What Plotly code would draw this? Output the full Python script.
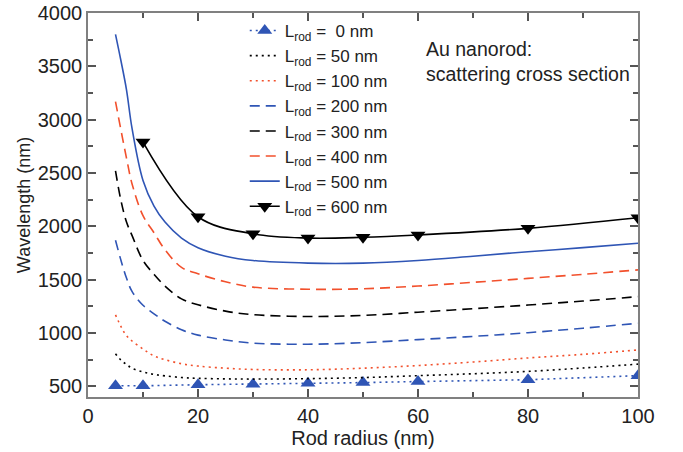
import plotly.graph_objects as go

# Rod radius grid (nm) for the smooth curves
radius = [5, 6, 7, 8, 10, 12, 14, 17, 20, 25, 30, 40, 50, 60, 70, 80, 90, 100]

wl_50 = [805, 745, 705, 670, 635, 612, 598, 583, 575, 570, 568, 572, 582, 600, 618, 640, 672, 708]
wl_100 = [1170, 1060, 975, 925, 850, 785, 750, 712, 690, 670, 658, 655, 670, 695, 728, 766, 800, 841]
wl_200 = [1870, 1680, 1515, 1390, 1260, 1180, 1110, 1030, 980, 935, 905, 895, 910, 938, 968, 1003, 1045, 1091]
wl_300 = [2520, 2240, 2040, 1915, 1680, 1550, 1440, 1320, 1265, 1205, 1172, 1155, 1165, 1195, 1228, 1262, 1300, 1341]
wl_400 = [3170, 2900, 2640, 2400, 2100, 1940, 1780, 1615, 1555, 1480, 1430, 1410, 1415, 1440, 1475, 1512, 1550, 1592]
wl_500 = [3800, 3550, 3280, 2920, 2430, 2190, 2040, 1890, 1800, 1720, 1680, 1655, 1655, 1680, 1720, 1762, 1800, 1842]

# Marker series
radius_0 = [5, 10, 20, 30, 40, 50, 60, 80, 100]
wl_0 = [505, 505, 515, 520, 528, 535, 545, 562, 600]

radius_600 = [10, 20, 30, 40, 50, 60, 80, 100]
wl_600 = [2790, 2090, 1930, 1890, 1897, 1919, 1981, 2080]

BLUE = "#2f55b5"
RED = "#f2502c"
BLACK = "#000000"

def lab(n):
    return "L<sub>rod</sub> = " + n + " nm"

fig = go.Figure()
fig.add_trace(go.Scatter(x=radius_0, y=wl_0, mode="lines+markers", name="L<sub>rod</sub> =  0 nm",
                         line=dict(color=BLUE, width=1.6, dash="2px,4px"),
                         marker=dict(symbol="triangle-up", size=13, color=BLUE)))
fig.add_trace(go.Scatter(x=radius, y=wl_50, mode="lines", name=lab("50"), line_shape="spline",
                         line=dict(color=BLACK, width=1.6, dash="2px,4px")))
fig.add_trace(go.Scatter(x=radius, y=wl_100, mode="lines", name=lab("100"), line_shape="spline",
                         line=dict(color=RED, width=1.6, dash="2px,4px")))
fig.add_trace(go.Scatter(x=radius, y=wl_200, mode="lines", name=lab("200"), line_shape="spline",
                         line=dict(color=BLUE, width=1.6, dash="10px,6px")))
fig.add_trace(go.Scatter(x=radius, y=wl_300, mode="lines", name=lab("300"), line_shape="spline",
                         line=dict(color=BLACK, width=1.6, dash="10px,6px")))
fig.add_trace(go.Scatter(x=radius, y=wl_400, mode="lines", name=lab("400"), line_shape="spline",
                         line=dict(color=RED, width=1.6, dash="10px,6px")))
fig.add_trace(go.Scatter(x=radius, y=wl_500, mode="lines", name=lab("500"), line_shape="spline",
                         line=dict(color=BLUE, width=1.6)))
fig.add_trace(go.Scatter(x=radius_600, y=wl_600, mode="lines+markers", name=lab("600"), line_shape="spline",
                         line=dict(color=BLACK, width=1.6),
                         marker=dict(symbol="triangle-down", size=13, color=BLACK)))

fig.add_annotation(x=0.61, y=0.875, xref="paper", yref="paper", xanchor="left", yanchor="middle",
                   align="left", showarrow=False,
                   text="Au nanorod:<br>scattering cross section",
                   font=dict(size=19.5, color="#222"))

axis_common = dict(showline=True, linecolor="#808080", linewidth=1.5, mirror="ticks",
                   ticks="inside", ticklen=8, tickwidth=1.5, tickcolor="#555",
                   showgrid=False, zeroline=False, automargin=False,
                   tickfont=dict(size=20, color="#222"))

fig.update_xaxes(range=[0, 100], dtick=20, tick0=0,
                 minor=dict(dtick=10, ticks="inside", ticklen=5, tickcolor="#555", tickwidth=1.5),
                 title=dict(text="Rod radius (nm)", font=dict(size=20, color="#222"), standoff=0),
                 **axis_common)
fig.update_yaxes(range=[400, 4000], dtick=500, tick0=0,
                 minor=dict(dtick=250, ticks="inside", ticklen=5, tickcolor="#555", tickwidth=1.5),
                 title=dict(text="Wavelength (nm)", font=dict(size=18, color="#222"), standoff=2),
                 **axis_common)

fig.update_layout(
    width=683, height=452,
    margin=dict(l=88, r=45, t=13, b=55),
    paper_bgcolor="white", plot_bgcolor="white",
    font=dict(family="Liberation Sans, Arial, sans-serif", color="#222"),
    legend=dict(x=0.285, y=1.0, xanchor="left", yanchor="top", bgcolor="rgba(0,0,0,0)",
                font=dict(size=17, color="#222"), itemwidth=30, tracegroupgap=0),
    showlegend=True,
)

# remove the default page margin so the figure fills the 683x452 window exactly
fig.write_html("out.html", config={"displayModeBar": False},
               post_script="document.body.style.margin='0';")
